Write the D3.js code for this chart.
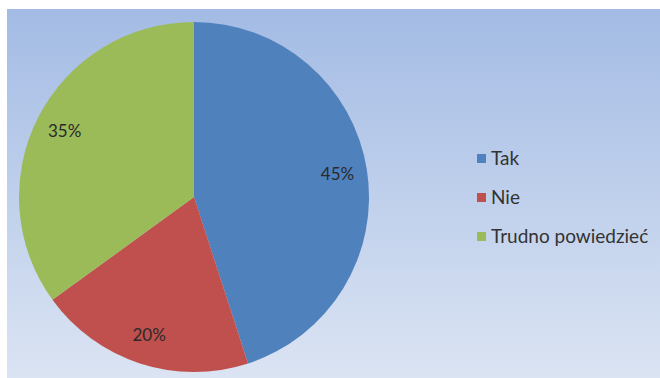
<!DOCTYPE html>
<html>
<head>
<meta charset="utf-8">
<script src="https://cdn.jsdelivr.net/npm/d3@7"></script>
<style>
  body { margin: 0; background: #fff; }
  svg { display: block; }
</style>
</head>
<body>
<div id="chart"></div>
<script>
var categories = ["Tak", "Nie", "Trudno powiedzieć"];
var values = [45, 20, 35];
var colors = ["#4f81bd", "#c0504d", "#9bbb59"];

var w = 660, h = 378,
    cx = 194, cy = 197, r = 175;

var svg = d3.select("#chart").append("svg")
    .attr("width", w)
    .attr("height", h);

// background gradient, darker blue on top
var grad = svg.append("defs").append("linearGradient")
    .attr("id", "bg")
    .attr("x1", 0).attr("y1", 0).attr("x2", 0).attr("y2", 1);
grad.append("stop").attr("offset", "0%").attr("stop-color", "#a3bbe4");
grad.append("stop").attr("offset", "100%").attr("stop-color", "#dbe4f3");

svg.append("rect")
    .attr("x", 7).attr("y", 9)
    .attr("width", w - 7).attr("height", h - 9)
    .attr("fill", "url(#bg)");

var pie = d3.pie().sort(null).value(function(d) { return d; });
var arcs = pie(values);

var arc = d3.arc().innerRadius(0).outerRadius(r);
var labelArc = d3.arc().innerRadius(r * 0.83).outerRadius(r * 0.83);

var g = svg.append("g").attr("transform", "translate(" + cx + "," + cy + ")");

g.selectAll("path")
    .data(arcs)
    .enter()
    .append("path")
    .attr("d", arc)
    .attr("fill", function(d, i) { return colors[i]; });

g.selectAll("text")
    .data(arcs)
    .enter()
    .append("text")
    .attr("transform", function(d) { return "translate(" + labelArc.centroid(d) + ")"; })
    .attr("text-anchor", "middle")
    .attr("dy", "0.35em")
    .style("font-family", "Lato, 'Open Sans', sans-serif")
    .style("font-size", "17px")
    .style("fill", "#2a2a2a")
    .text(function(d) { return d.data + "%"; });

// legend
var legend = svg.append("g").attr("transform", "translate(477,158)");
var items = legend.selectAll("g")
    .data(categories)
    .enter()
    .append("g")
    .attr("transform", function(d, i) { return "translate(0," + (i * 39) + ")"; });

items.append("rect")
    .attr("x", 0).attr("y", -4)
    .attr("width", 9).attr("height", 9)
    .attr("fill", function(d, i) { return colors[i]; });

items.append("text")
    .attr("x", 14)
    .attr("dy", "0.35em")
    .style("font-family", "Lato, 'Open Sans', sans-serif")
    .style("font-size", "19px")
    .style("fill", "#333")
    .text(function(d) { return d; });
</script>
</body>
</html>
